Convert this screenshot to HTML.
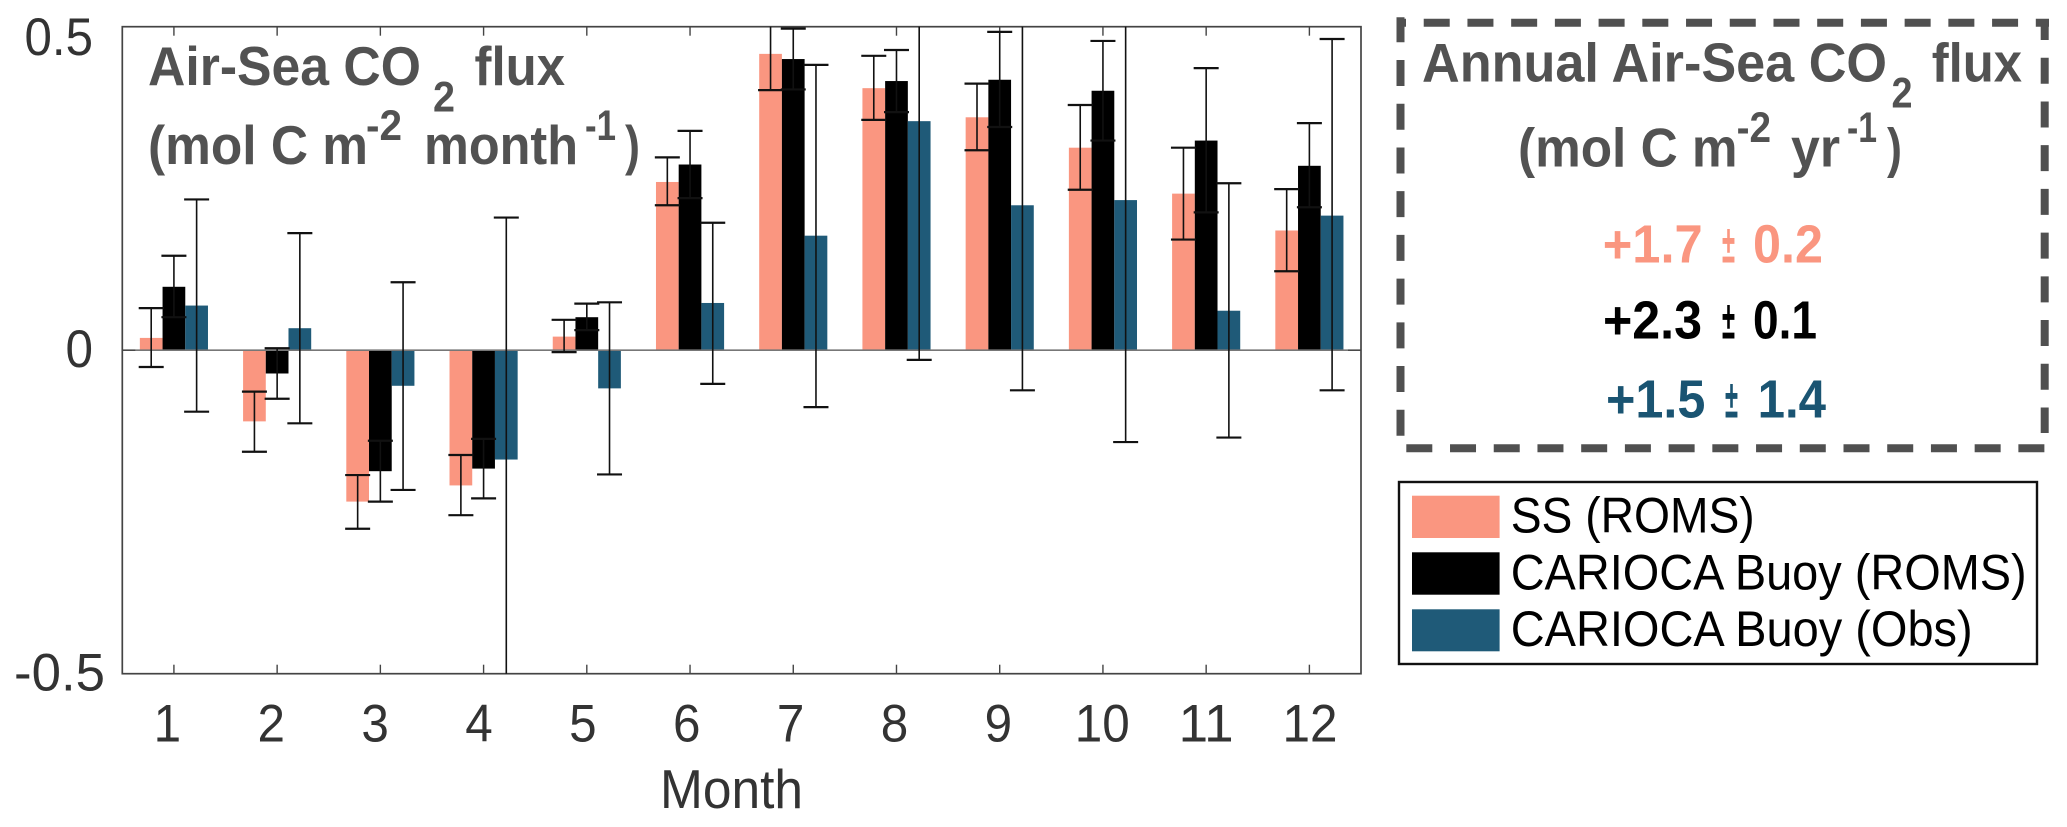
<!DOCTYPE html>
<html lang="en">
<head>
<meta charset="utf-8">
<title>Air-Sea CO2 flux</title>
<style>
html,body{margin:0;padding:0;background:#fff;}
svg{display:block;}
text{font-family:"Liberation Sans",Arial,sans-serif;}
.tb{font-weight:bold;fill:#525252;}
</style>
</head>
<body>
<svg id="chart" xmlns="http://www.w3.org/2000/svg" width="2067" height="827" viewBox="0 0 2067 827">
  <defs><clipPath id="plot-clip"><rect x="122.3" y="26.7" width="1238.7" height="647"/></clipPath></defs>
  <rect x="0" y="0" width="2067" height="827" fill="#fff"/>
  <g id="bars"></g>
  <g id="axes"></g>
  <g id="errors" clip-path="url(#plot-clip)"></g>

  <g font-size="55">
    <text class="tb" x="148" y="85" textLength="273" lengthAdjust="spacingAndGlyphs">Air-Sea CO</text>
    <text class="tb" x="433" y="111.5" font-size="43" textLength="22" lengthAdjust="spacingAndGlyphs">2</text>
    <text class="tb" x="474.5" y="85" textLength="90.5" lengthAdjust="spacingAndGlyphs">flux</text>
    <text class="tb" x="148" y="164" textLength="220" lengthAdjust="spacingAndGlyphs">(mol C m</text>
    <text class="tb" x="366" y="140" font-size="43" textLength="36" lengthAdjust="spacingAndGlyphs">-2</text>
    <text class="tb" x="424" y="164" textLength="154" lengthAdjust="spacingAndGlyphs">month</text>
    <text class="tb" x="585" y="140" font-size="43" textLength="31" lengthAdjust="spacingAndGlyphs">-1</text>
    <text class="tb" x="625" y="164" textLength="15" lengthAdjust="spacingAndGlyphs">)</text>
  </g>

  <text x="660" y="808" font-size="55" fill="#333" textLength="143" lengthAdjust="spacingAndGlyphs">Month</text>

  <g>
    <g fill="none" stroke="#505050" stroke-width="8" stroke-dasharray="26 17.72">
      <line x1="1397" y1="22.7" x2="2049" y2="22.7" stroke-dashoffset="17"/>
      <line x1="1406.3" y1="448.3" x2="2045" y2="448.3"/>
      <line x1="1400.5" y1="17.3" x2="1400.5" y2="436.5" stroke-dashoffset="1"/>
      <line x1="2044.7" y1="19" x2="2044.7" y2="433" stroke-dashoffset="5"/>
    </g>
    <g font-size="55">
      <text class="tb" x="1422" y="81.7" textLength="465" lengthAdjust="spacingAndGlyphs">Annual Air-Sea CO</text>
      <text class="tb" x="1891.5" y="107.7" font-size="43" textLength="21" lengthAdjust="spacingAndGlyphs">2</text>
      <text class="tb" x="1931.7" y="81.7" textLength="90.3" lengthAdjust="spacingAndGlyphs">flux</text>
      <text class="tb" x="1518" y="166.7" textLength="219.5" lengthAdjust="spacingAndGlyphs">(mol C m</text>
      <text class="tb" x="1736.6" y="142" font-size="43" textLength="34.4" lengthAdjust="spacingAndGlyphs">-2</text>
      <text class="tb" x="1791" y="166.7" textLength="49" lengthAdjust="spacingAndGlyphs">yr</text>
      <text class="tb" x="1847" y="142" font-size="43" textLength="30" lengthAdjust="spacingAndGlyphs">-1</text>
      <text class="tb" x="1887" y="166.7" textLength="15" lengthAdjust="spacingAndGlyphs">)</text>
    </g>
    <g font-size="54" font-weight="bold" fill="#fa9680">
      <text x="1602.7" y="262.7" textLength="100" lengthAdjust="spacingAndGlyphs">+1.7</text>
      <text x="1722" y="262.7" font-size="54" textLength="13" lengthAdjust="spacingAndGlyphs">±</text>
      <text x="1753" y="262.7" textLength="70" lengthAdjust="spacingAndGlyphs">0.2</text>
    </g>
    <g font-size="54" font-weight="bold" fill="#000">
      <text x="1603" y="338.3" textLength="99" lengthAdjust="spacingAndGlyphs">+2.3</text>
      <text x="1722" y="338.3" font-size="54" textLength="13" lengthAdjust="spacingAndGlyphs">±</text>
      <text x="1753" y="338.3" textLength="64" lengthAdjust="spacingAndGlyphs">0.1</text>
    </g>
    <g font-size="54" font-weight="bold" fill="#1a5472">
      <text x="1606" y="417.3" textLength="99.4" lengthAdjust="spacingAndGlyphs">+1.5</text>
      <text x="1725" y="417.3" font-size="54" textLength="13" lengthAdjust="spacingAndGlyphs">±</text>
      <text x="1757.6" y="417.3" textLength="68.4" lengthAdjust="spacingAndGlyphs">1.4</text>
    </g>
  </g>

  <g>
    <rect x="1399" y="482" width="638" height="182" fill="#fff" stroke="#111" stroke-width="2.4"/>
    <g>
      <rect x="1412" y="495.7" width="87.6" height="42.3" fill="#fa9680"/>
      <text x="1510.7" y="532.7" font-size="50" fill="#000" textLength="244" lengthAdjust="spacingAndGlyphs">SS (ROMS)</text>
    </g>
    <g>
      <rect x="1412" y="552.3" width="87.6" height="42.4" fill="#000"/>
      <text x="1510.7" y="589.3" font-size="50" fill="#000" textLength="516" lengthAdjust="spacingAndGlyphs">CARIOCA Buoy (ROMS)</text>
    </g>
    <g>
      <rect x="1412" y="609.3" width="87.6" height="42" fill="#1f5a78"/>
      <text x="1510.7" y="646" font-size="50" fill="#000" textLength="462" lengthAdjust="spacingAndGlyphs">CARIOCA Buoy (Obs)</text>
    </g>
  </g>
</svg>

<script>
const months = ['1','2','3','4','5','6','7','8','9','10','11','12'];
const yTickValues = [0.5, 0, -0.5];
const yTickLabels = ['0.5', '0', '-0.5'];

const ssValues  = [0.019,-0.110,-0.234,-0.209,0.021,0.260,0.458,0.405,0.360,0.313,0.242,0.185];
const ssUpper   = [0.065,-0.064,-0.193,-0.162,0.047,0.298,0.513,0.455,0.412,0.379,0.313,0.249];
const ssLower   = [-0.026,-0.157,-0.276,-0.255,-0.003,0.224,0.402,0.356,0.309,0.248,0.171,0.122];

const buoyRomsValues = [0.098,-0.036,-0.187,-0.183,0.051,0.287,0.450,0.416,0.418,0.401,0.324,0.285];
const buoyRomsUpper  = [0.146,0.003,-0.140,-0.137,0.072,0.339,0.497,0.464,0.492,0.478,0.436,0.351];
const buoyRomsLower  = [0.051,-0.075,-0.234,-0.229,0.031,0.235,0.403,0.368,0.345,0.324,0.213,0.221];

const buoyObsValues = [0.069,0.034,-0.055,-0.169,-0.059,0.073,0.177,0.354,0.224,0.232,0.061,0.208];
const buoyObsUpper  = [0.233,0.181,0.105,0.205,0.074,0.197,0.441,0.723,0.509,0.607,0.258,0.481];
const buoyObsLower  = [-0.095,-0.113,-0.216,-0.543,-0.192,-0.052,-0.088,-0.015,-0.062,-0.142,-0.135,-0.062];

const NS = 'http://www.w3.org/2000/svg';
const plotLeft = 122.3, plotRight = 1361, plotTop = 26.7, plotBottom = 673.7;
const barUnits = 0.22;

function xScale(m) { return plotLeft + (m - 0.5) / 12 * (plotRight - plotLeft); }
function yScale(v) { return plotTop + (0.5 - v) * (plotBottom - plotTop); }

function make(tag, attrs, parent) {
  const el = document.createElementNS(NS, tag);
  for (const k in attrs) el.setAttribute(k, attrs[k]);
  parent.appendChild(el);
  return el;
}

const barsG = document.getElementById('bars');
const errorsG = document.getElementById('errors');
const axesG = document.getElementById('axes');

const series = [
  { key: 'ss', color: '#fa9680', offset: -1, values: ssValues, upper: ssUpper, lower: ssLower },
  { key: 'buoy-roms', color: '#000000', offset: 0, values: buoyRomsValues, upper: buoyRomsUpper, lower: buoyRomsLower },
  { key: 'buoy-obs', color: '#1f5a78', offset: 1, values: buoyObsValues, upper: buoyObsUpper, lower: buoyObsLower }
];

series.forEach(function (s) {
  s.values.forEach(function (v, i) {
    const cx = xScale(i + 1 + s.offset * barUnits);
    const w = xScale(1 + barUnits) - xScale(1);
    const y0 = yScale(0), y1 = yScale(v);
    const bar = make('rect', { x: cx - w / 2, y: Math.min(y0, y1), width: w, height: Math.abs(y1 - y0), fill: s.color }, barsG);
    
    
  });
});

series.forEach(function (s) {
  s.values.forEach(function (v, i) {
    const cx = xScale(i + 1 + s.offset * barUnits);
    const yU = yScale(s.upper[i]), yL = yScale(s.lower[i]);
    const g = make('g', { stroke: '#111', fill: 'none' }, errorsG);
    
    
    make('line', { x1: cx, x2: cx, y1: yU, y2: yL, 'stroke-width': 1.6 }, g);
    make('line', { x1: cx - 12.5, x2: cx + 12.5, y1: yU, y2: yU, 'stroke-width': 2.2 }, g);
    make('line', { x1: cx - 12.5, x2: cx + 12.5, y1: yL, y2: yL, 'stroke-width': 2.2 }, g);
  });
});

const axisColor = '#444';

const baseline = make('line', { x1: plotLeft, x2: plotRight, y1: yScale(0), y2: yScale(0), stroke: '#777', 'stroke-width': 1.6 }, axesG);



const frame = make('rect', { x: plotLeft, y: plotTop, width: plotRight - plotLeft, height: plotBottom - plotTop, fill: 'none', stroke: axisColor, 'stroke-width': 1.7 }, axesG);



months.forEach(function (label, i) {
  const x = xScale(i + 1);
  const t1 = make('line', { x1: x, x2: x, y1: plotBottom, y2: plotBottom - 9, stroke: axisColor, 'stroke-width': 1.4 }, axesG);
  
  
  const t2 = make('line', { x1: x, x2: x, y1: plotTop, y2: plotTop + 9, stroke: axisColor, 'stroke-width': 1.4 }, axesG);
  
  
  const txt = make('text', { x: x - 6.5 + i * 0.65, y: 741.7, 'font-size': 53, fill: '#333', 'text-anchor': 'middle', textLength: label.length * 27.5, lengthAdjust: 'spacingAndGlyphs' }, axesG);
  
  
  txt.textContent = label;
});

yTickValues.forEach(function (v, i) {
  const y = yScale(v);
  const t1 = make('line', { x1: plotLeft, x2: plotLeft + 13, y1: y, y2: y, stroke: axisColor, 'stroke-width': 1.4 }, axesG);
  
  
  const t2 = make('line', { x1: plotRight - 13, x2: plotRight, y1: y, y2: y, stroke: axisColor, 'stroke-width': 1.4 }, axesG);
  
  
  const txt = make('text', { x: v < 0 ? 105 : 93, y: Math.max(55, y + 17), 'font-size': 53, fill: '#333', 'text-anchor': 'end', textLength: yTickLabels[i].length * 22.5 + (yTickLabels[i].length === 1 ? 5 : 1), lengthAdjust: 'spacingAndGlyphs' }, axesG);
  
  
  txt.textContent = yTickLabels[i];
});
</script>
</body>
</html>
